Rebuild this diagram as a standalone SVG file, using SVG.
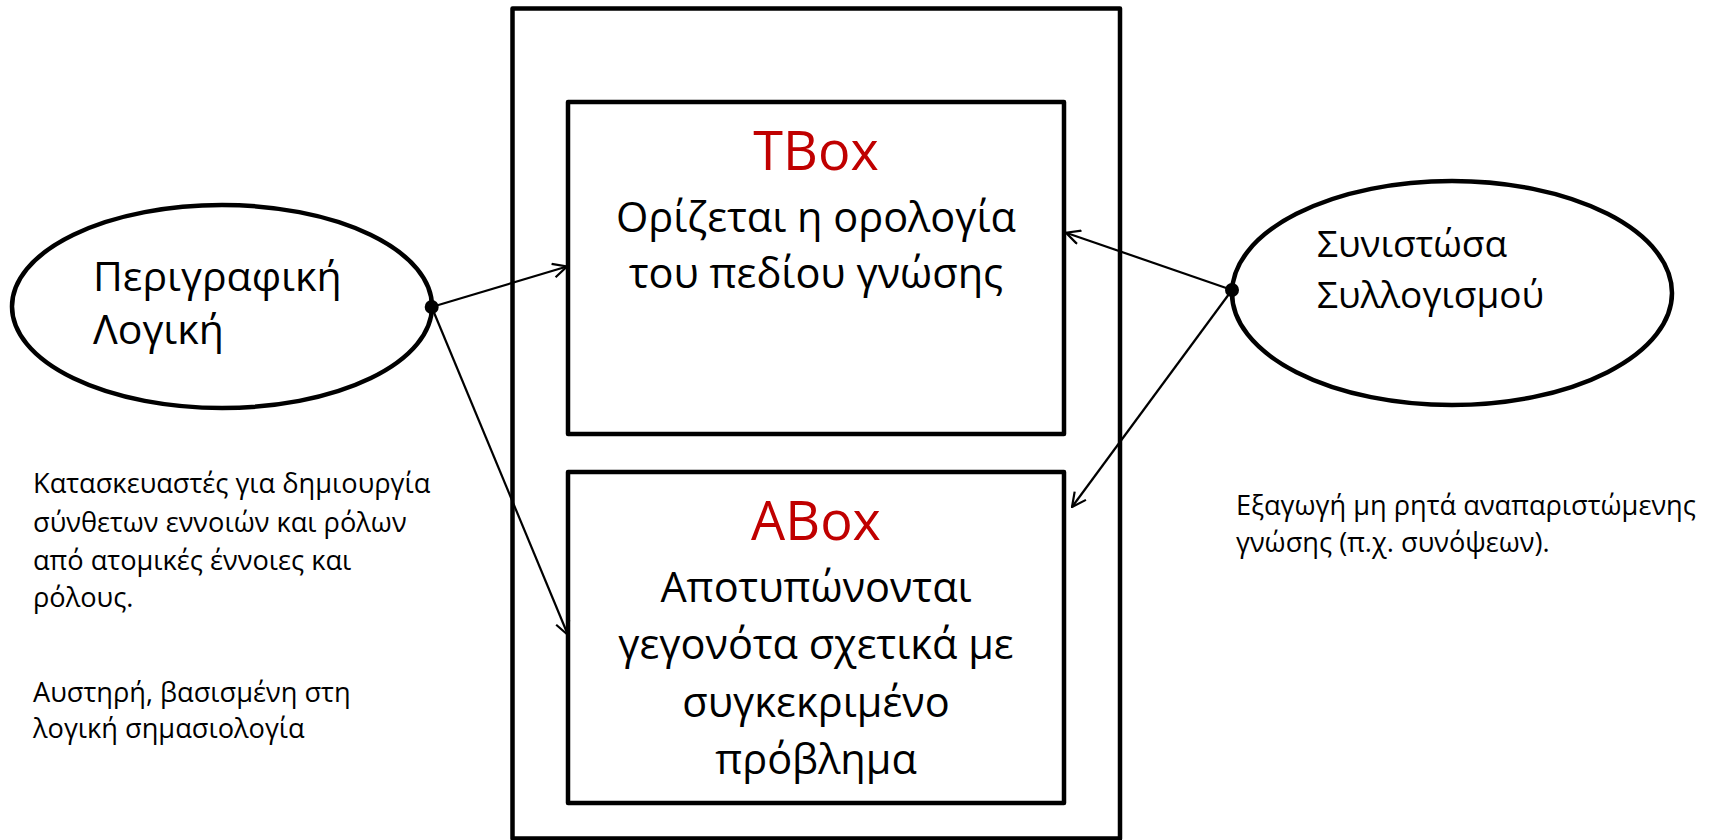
<svg xmlns="http://www.w3.org/2000/svg" width="1725" height="840" viewBox="0 0 1725 840">
  <style>
    .frame { fill: none; stroke: #000; stroke-width: 4.5; stroke-linejoin: round; }
    .oval { fill: #fff; stroke: #000; stroke-width: 4.5; }
    .txt { font-family: "Open Sans", "Noto Sans", "DejaVu Sans", sans-serif; fill: #000; }
    .title { font-family: "Open Sans", "Noto Sans", "DejaVu Sans", sans-serif; fill: #C00000; font-size: 54px; text-anchor: middle; }
    .body { font-size: 41.5px; text-anchor: middle; }
    .note { font-size: 27.2px; }
    .link { fill: none; stroke: #000; stroke-width: 2.2; marker-end: url(#openArrow); }
    .joint { fill: #000; }
  </style>
  <defs>
    <marker id="openArrow" viewBox="0 0 16 16" refX="15" refY="8" markerWidth="16" markerHeight="16" markerUnits="userSpaceOnUse" orient="auto">
      <path d="M1,1 L15,8 L1,15" fill="none" stroke="#000" stroke-width="2.2"/>
    </marker>
  </defs>

  <rect x="0" y="0" width="1725" height="840" fill="#fff"/>

  <!-- knowledge base container -->
  <g id="kb">
    <rect class="frame" x="512.5" y="8.5" width="607.5" height="830"/>
  </g>

  <!-- terminology box -->
  <g id="tbox">
    <rect class="frame" x="568" y="102" width="496" height="332"/>
    <text class="title" x="816" y="170">TBox</text>
    <text class="txt body" x="816" y="232">Ορίζεται η ορολογία</text>
    <text class="txt body" x="816" y="288">του πεδίου γνώσης</text>
  </g>

  <!-- assertion box -->
  <g id="abox">
    <rect class="frame" x="568" y="472" width="496" height="331"/>
    <text class="title" x="816" y="540">ABox</text>
    <text class="txt body" x="816" y="602">Αποτυπώνονται</text>
    <text class="txt body" x="816" y="659">γεγονότα σχετικά με</text>
    <text class="txt body" x="816" y="717">συγκεκριμένο</text>
    <text class="txt body" x="816" y="774">πρόβλημα</text>
  </g>

  <!-- description logic -->
  <g id="dl">
    <ellipse class="oval" cx="222" cy="306.5" rx="210" ry="101.5"/>
    <text class="txt" font-size="41" x="93" y="291">Περιγραφική</text>
    <text class="txt" font-size="41" x="93" y="344">Λογική</text>
  </g>

  <!-- reasoning component -->
  <g id="reasoner">
    <ellipse class="oval" cx="1452" cy="293" rx="220" ry="112"/>
    <text class="txt" font-size="37" x="1317" y="257">Συνιστώσα</text>
    <text class="txt" font-size="37" x="1317" y="308">Συλλογισμού</text>
  </g>

  <!-- side notes -->
  <g id="dl-notes">
    <text class="txt note" x="33" y="493">Κατασκευαστές για δημιουργία</text>
    <text class="txt note" x="33" y="532">σύνθετων εννοιών και ρόλων</text>
    <text class="txt note" x="33" y="570">από ατομικές έννοιες και</text>
    <text class="txt note" x="33" y="607">ρόλους.</text>
    <text class="txt note" x="33" y="702">Αυστηρή, βασισμένη στη</text>
    <text class="txt note" x="33" y="738">λογική σημασιολογία</text>
  </g>
  <g id="reasoner-notes">
    <text class="txt note" font-size="27.5" x="1236" y="515">Εξαγωγή μη ρητά αναπαριστώμενης</text>
    <text class="txt note" font-size="27.5" x="1236" y="552">γνώσης (π.χ. συνόψεων).</text>
  </g>

  <!-- connectors -->
  <g id="connectors">
    <line class="link" x1="431.7" y1="307" x2="567" y2="266.5"/>
    <line class="link" x1="431.7" y1="307" x2="568" y2="635"/>
    <line class="link" x1="1232" y1="290" x2="1066" y2="232.7"/>
    <line class="link" x1="1232" y1="290" x2="1072" y2="507"/>
    <circle class="joint" cx="431.7" cy="307" r="7"/>
    <circle class="joint" cx="1232" cy="290" r="7"/>
  </g>
</svg>
